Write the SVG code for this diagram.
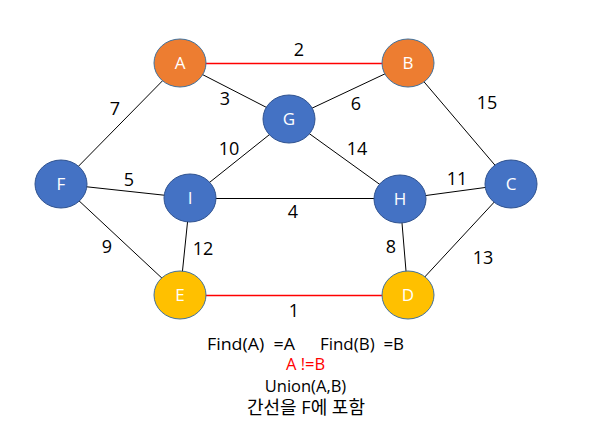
<svg xmlns="http://www.w3.org/2000/svg" width="591" height="440" viewBox="0 0 591 440">
<style>
.e{stroke:#000;stroke-width:1;fill:none}
.r{stroke:#FF0000;stroke-width:1.6;fill:none}
.nb{fill:#4472C4;stroke:#2F528F;stroke-width:1}
.no{fill:#ED7D31;stroke:#41719C;stroke-width:1}
.ny{fill:#FFC000;stroke:#41719C;stroke-width:1}
.nt{font-family:"Open Sans","Noto Sans CJK KR",sans-serif;font-size:17px;fill:#fff;text-anchor:middle}
.lb{font-family:"Open Sans","Noto Sans CJK KR",sans-serif;font-size:18px;fill:#000;text-anchor:middle}
.bt{font-family:"Open Sans","Noto Sans CJK KR",sans-serif;font-size:16.5px;fill:#000;text-anchor:middle}
</style>
<rect width="591" height="440" fill="#fff"/>
<g id="connectors">
<line class="r" x1="180" y1="63.5" x2="408" y2="63.5"/>
<line class="e" x1="180" y1="63" x2="289" y2="119"/>
<line class="e" x1="408" y1="63" x2="289" y2="119"/>
<line class="e" x1="180" y1="63" x2="61" y2="184"/>
<line class="e" x1="408" y1="63" x2="511" y2="184"/>
<line class="e" x1="289" y1="119" x2="190" y2="198"/>
<line class="e" x1="289" y1="119" x2="400" y2="199"/>
<line class="e" x1="61" y1="184" x2="190" y2="198"/>
<line class="e" x1="190" y1="198.5" x2="400" y2="198.5"/>
<line class="e" x1="400" y1="199" x2="511" y2="184"/>
<line class="e" x1="61" y1="184" x2="180" y2="295"/>
<line class="e" x1="190" y1="198" x2="180" y2="295"/>
<line class="e" x1="400" y1="199" x2="408" y2="295"/>
<line class="e" x1="511" y1="184" x2="408" y2="295"/>
<line class="r" x1="180" y1="295.5" x2="408" y2="295.5"/>
</g>
<g id="edge-labels">
<text class="lb" x="299" y="56">2</text>
<text class="lb" x="225" y="105">3</text>
<text class="lb" x="356" y="110">6</text>
<text class="lb" x="115" y="115">7</text>
<text class="lb" x="487" y="109">15</text>
<text class="lb" x="229" y="155">10</text>
<text class="lb" x="357" y="155">14</text>
<text class="lb" x="129" y="186">5</text>
<text class="lb" x="293" y="218">4</text>
<text class="lb" x="457" y="185">11</text>
<text class="lb" x="107" y="253">9</text>
<text class="lb" x="203" y="255">12</text>
<text class="lb" x="391" y="253">8</text>
<text class="lb" x="483" y="264">13</text>
<text class="lb" x="294" y="317">1</text>
</g>
<g id="node-A"><ellipse class="no" cx="180" cy="63" rx="26" ry="24"/><text class="nt" x="180" y="69">A</text></g>
<g id="node-B"><ellipse class="no" cx="408" cy="63" rx="26" ry="24"/><text class="nt" x="408" y="69">B</text></g>
<g id="node-G"><ellipse class="nb" cx="289" cy="119" rx="26" ry="24"/><text class="nt" x="289" y="125">G</text></g>
<g id="node-F"><ellipse class="nb" cx="61" cy="184" rx="26" ry="24"/><text class="nt" x="61" y="190">F</text></g>
<g id="node-I"><ellipse class="nb" cx="190" cy="198" rx="26" ry="24"/><text class="nt" x="190" y="204">I</text></g>
<g id="node-H"><ellipse class="nb" cx="400" cy="199" rx="26" ry="24"/><text class="nt" x="400" y="205">H</text></g>
<g id="node-C"><ellipse class="nb" cx="511" cy="184" rx="26" ry="24"/><text class="nt" x="511" y="190">C</text></g>
<g id="node-E"><ellipse class="ny" cx="180" cy="295" rx="26" ry="24"/><text class="nt" x="180" y="301">E</text></g>
<g id="node-D"><ellipse class="ny" cx="408" cy="295" rx="26" ry="24"/><text class="nt" x="408" y="301">D</text></g>
<g id="caption">
<text class="bt" x="251" y="350" textLength="88" lengthAdjust="spacingAndGlyphs" xml:space="preserve">Find(A)  =A</text>
<text class="bt" x="362" y="350" textLength="84" lengthAdjust="spacingAndGlyphs" xml:space="preserve">Find(B)  =B</text>
<text class="bt" x="305.5" y="370" style="fill:#FF0000">A !=B</text>
<text class="bt" x="305.5" y="392">Union(A,B)</text>
<text class="bt" x="306" y="414" style="font-size:18px">간선을 F에 포함</text>
</g>
</svg>
